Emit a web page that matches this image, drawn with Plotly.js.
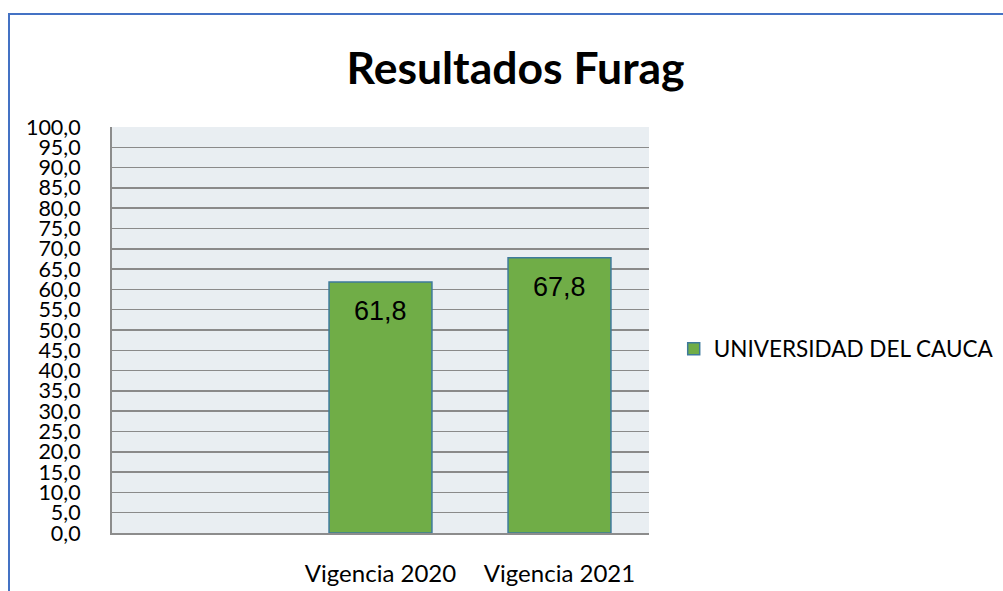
<!DOCTYPE html>
<html>
<head>
<meta charset="utf-8">
<script src="https://cdn.plot.ly/plotly-3.0.1.min.js"></script>
<style>
html,body{margin:0;padding:0;background:#fff;}
#wrap{position:relative;width:1003px;height:591px;overflow:hidden;}
#chart{position:absolute;left:0;top:0;width:1003px;height:591px;}
#frame{position:absolute;left:8px;top:13px;width:1100px;height:700px;border-top:2px solid #4472C4;border-left:2px solid #4472C4;pointer-events:none;}
</style>
</head>
<body>
<div id="wrap"><div id="chart"></div><div id="frame"></div></div>
<script>
var categories = [' ', 'Vigencia 2020', 'Vigencia 2021'];
var values = [null, 61.8, 67.8];
var seriesName = 'UNIVERSIDAD DEL CAUCA';
var chartTitle = 'Resultados Furag';

var trace = {
  type: 'bar',
  x: categories,
  y: values,
  name: seriesName,
  marker: {color: '#70AD47', line: {color: '#3E7A9C', width: 1.5}},
  textposition: 'none',
  hoverinfo: 'x+y',
  showlegend: true
};

var annotations = [];
for (var i = 0; i < categories.length; i++) {
  if (values[i] === null) continue;
  annotations.push({
    x: categories[i], y: values[i], xref: 'x', yref: 'y',
    text: values[i].toFixed(1).replace('.', ','),
    showarrow: false, yanchor: 'middle', yshift: -29,
    font: {family: 'Liberation Sans, Arial, sans-serif', size: 27, color: '#000'}
  });
}

var layout = {
  width: 1003, height: 591,
  margin: {l: 112, r: 354, t: 127, b: 58, pad: 0, autoexpand: false},
  paper_bgcolor: '#ffffff',
  plot_bgcolor: '#E9EEF2',
  separators: ',.',
  title: {
    text: chartTitle,
    font: {family: 'Lato, Carlito, sans-serif', size: 44.5, color: '#000', weight: 'bold'},
    x: 0.514, xanchor: 'center', xref: 'container', y: 0.885, yanchor: 'middle', yref: 'container'
  },
  bargap: 0.425,
  xaxis: {
    type: 'category',
    categoryorder: 'array', categoryarray: categories,
    range: [-0.5, 2.5],
    showgrid: false, zeroline: false,
    showline: true, linecolor: '#8c8c8c', linewidth: 2,
    ticks: '', ticklabelstandoff: 18,
    tickfont: {family: 'Lato, Carlito, sans-serif', size: 24, color: '#000'},
    fixedrange: true, automargin: false
  },
  yaxis: {
    range: [0, 100], dtick: 5, tick0: 0, tickformat: '.1f',
    showgrid: true, gridcolor: '#8a8a8a', gridwidth: 1.5,
    zeroline: false,
    showline: true, linecolor: '#8c8c8c', linewidth: 2,
    ticks: '', ticklabelstandoff: 25,
    tickfont: {family: 'Lato, Carlito, sans-serif', size: 21.5, color: '#000'},
    fixedrange: true, automargin: false
  },
  legend: {
    x: 1.046, xanchor: 'left', y: 0.453, yanchor: 'middle',
    font: {family: 'Lato, Carlito, sans-serif', size: 22.5, color: '#000'},
    bgcolor: 'rgba(0,0,0,0)', borderwidth: 0
  },
  annotations: annotations,
  showlegend: true
};

Plotly.newPlot('chart', [trace], layout, {displayModeBar: false, staticPlot: true});
</script>
</body>
</html>
